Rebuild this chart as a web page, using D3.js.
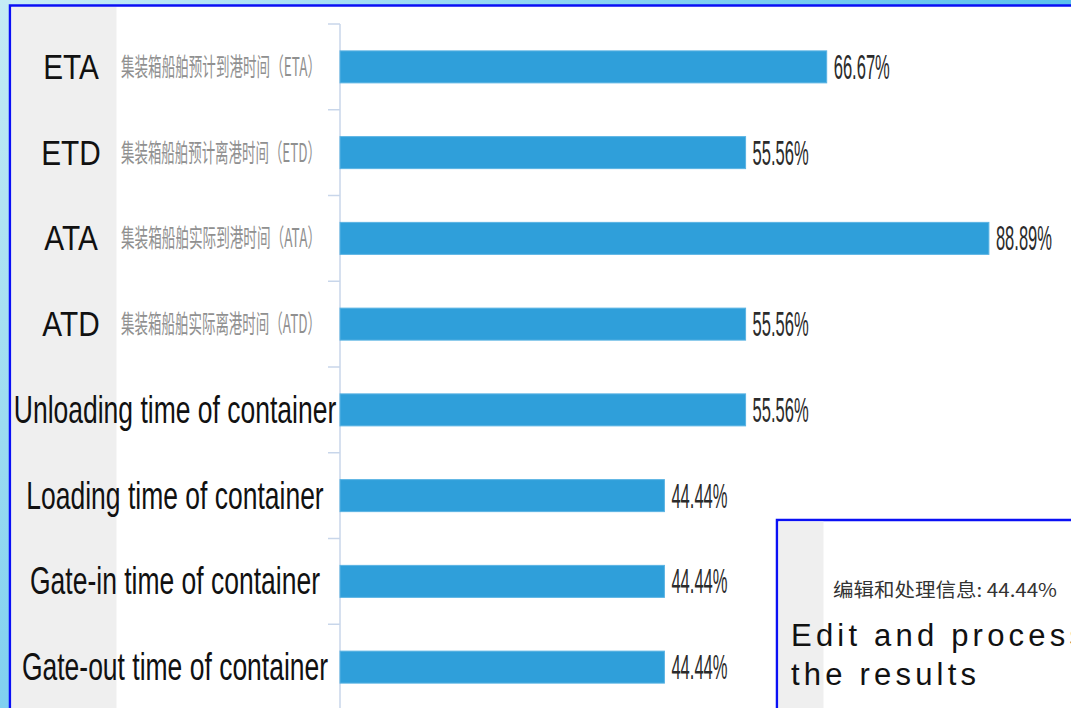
<!DOCTYPE html>
<html>
<head>
<meta charset="utf-8">
<script src="https://cdn.jsdelivr.net/npm/d3@7"></script>
<style>
  html, body { margin: 0; padding: 0; background: #fff; }
  svg { display: block; }
</style>
</head>
<body>
<div id="chart"></div>
<script>
const categories = ["ETA", "ETD", "ATA", "ATD",
  "Unloading time of container", "Loading time of container",
  "Gate-in time of container", "Gate-out time of container"];
const subLabels = ["集装箱船舶预计到港时间（ETA）", "集装箱船舶预计离港时间（ETD）",
  "集装箱船舶实际到港时间（ATA）", "集装箱船舶实际离港时间（ATD）", "", "", "", ""];
const values = [66.67, 55.56, 88.89, 55.56, 55.56, 44.44, 44.44, 44.44];
const noteCn = "编辑和处理信息: 44.44%";
const noteEn = ["Edit and process", "the results"];

const W = 1071, H = 708;
const svg = d3.select("#chart").append("svg").attr("width", W).attr("height", H);

const defs = svg.append("defs");
const g1 = defs.append("linearGradient").attr("id", "bg").attr("x1", 0).attr("x2", 1).attr("y1", 0).attr("y2", 0);
g1.append("stop").attr("offset", 0).attr("stop-color", "#c9edf6");
g1.append("stop").attr("offset", 0.5).attr("stop-color", "#8fd6f3");
g1.append("stop").attr("offset", 1).attr("stop-color", "#5bc1ee");
const g2 = defs.append("linearGradient").attr("id", "bgl").attr("x1", 0).attr("x2", 0).attr("y1", 0).attr("y2", 1);
g2.append("stop").attr("offset", 0).attr("stop-color", "#c4ebf5");
g2.append("stop").attr("offset", 0.6).attr("stop-color", "#9cdcf1");
g2.append("stop").attr("offset", 1).attr("stop-color", "#7fd0f0");

svg.append("rect").attr("width", W).attr("height", H).attr("fill", "url(#bg)");
svg.append("rect").attr("x", 0).attr("y", 0).attr("width", 11).attr("height", H).attr("fill", "url(#bgl)");

// panel
svg.append("rect").attr("x", 10).attr("y", 5.5).attr("width", W).attr("height", H)
  .attr("fill", "#ffffff").attr("stroke", "#0a10f5").attr("stroke-width", 2.5);
svg.append("rect").attr("x", 11.5).attr("y", 7).attr("width", 105).attr("height", H)
  .attr("fill", "#efefef");

// scales
const x = d3.scaleLinear().domain([0, 100]).range([340, 1070]);
const yOuter = d3.scaleBand().domain(categories).range([24, 710]).padding(0);
const y = d3.scaleBand().domain(categories).range([24, 710]).paddingInner(0.627).paddingOuter(0.3135);

// axis line + ticks at band boundaries
const axisG = svg.append("g");
axisG.append("line").attr("x1", x(0)).attr("x2", x(0)).attr("y1", yOuter.range()[0]).attr("y2", H)
  .attr("stroke", "#c8d6ea").attr("stroke-width", 1.5);
const tickYs = categories.map(c => yOuter(c));
axisG.selectAll("line.tick").data(tickYs).join("line").attr("class", "tick")
  .attr("x1", x(0) - 12).attr("x2", x(0)).attr("y1", d => d).attr("y2", d => d)
  .attr("stroke", "#c8d6ea").attr("stroke-width", 1.5);

// bars
const data = categories.map((c, i) => ({ c, v: values[i], sub: subLabels[i] }));
svg.selectAll("rect.bar").data(data).join("rect").attr("class", "bar")
  .attr("x", x(0)).attr("y", d => y(d.c))
  .attr("width", d => x(d.v) - x(0)).attr("height", y.bandwidth())
  .attr("fill", "#2f9fda").attr("stroke", "#5ab3e3").attr("stroke-width", 1);

// value labels
svg.selectAll("text.val").data(data).join("text").attr("class", "val")
  .attr("transform", d => `translate(${x(d.v) + 7},${y(d.c) + y.bandwidth() / 2 + 12}) scale(0.46,1)`)
  .attr("font-family", "'Liberation Sans', Arial, sans-serif")
  .attr("font-size", 36).attr("fill", "#2b2b2b")
  .text(d => d.v.toFixed(2) + "%");

// category labels
const mid = d => y(d.c) + y.bandwidth() / 2;
svg.selectAll("text.cat").data(data).join("text").attr("class", "cat")
  .attr("transform", d => d.sub
      ? `translate(71,${mid(d) + 12}) scale(0.85,1)`
      : `translate(175,${mid(d) + 13}) scale(0.697,1)`)
  .attr("text-anchor", "middle")
  .attr("font-family", "'Liberation Sans', Arial, sans-serif")
  .attr("font-size", d => d.sub ? 35 : 38)
  .attr("fill", "#111")
  .text(d => d.c);

// Chinese sub labels
svg.selectAll("text.sub").data(data.filter(d => d.sub)).join("text").attr("class", "sub")
  .attr("x", 121).attr("y", d => mid(d) + 9)
  .attr("font-family", "'Noto Sans CJK SC', sans-serif")
  .attr("font-size", 25).attr("fill", "#909090")
  .attr("textLength", 200).attr("lengthAdjust", "spacingAndGlyphs")
  .text(d => d.sub);

// overlay note box
const note = svg.append("g");
note.append("rect").attr("x", 777).attr("y", 520).attr("width", 320).attr("height", 220)
  .attr("fill", "#ffffff").attr("stroke", "#0a10f5").attr("stroke-width", 2.5);
note.append("rect").attr("x", 778.5).attr("y", 521.5).attr("width", 45).attr("height", 200)
  .attr("fill", "#efefef");
note.append("text").attr("x", 833).attr("y", 597)
  .attr("font-family", "'Noto Sans CJK SC', sans-serif").attr("font-size", 19)
  .attr("textLength", 224).attr("lengthAdjust", "spacingAndGlyphs")
  .attr("fill", "#333").text(noteCn);
note.selectAll("text.en").data(noteEn).join("text").attr("class", "en")
  .attr("x", 791).attr("y", (d, i) => 646 + i * 39)
  .attr("font-family", "'Liberation Sans', Arial, sans-serif").attr("font-size", 31)
  .attr("letter-spacing", 4.2).attr("fill", "#111").text(d => d);
</script>
</body>
</html>
